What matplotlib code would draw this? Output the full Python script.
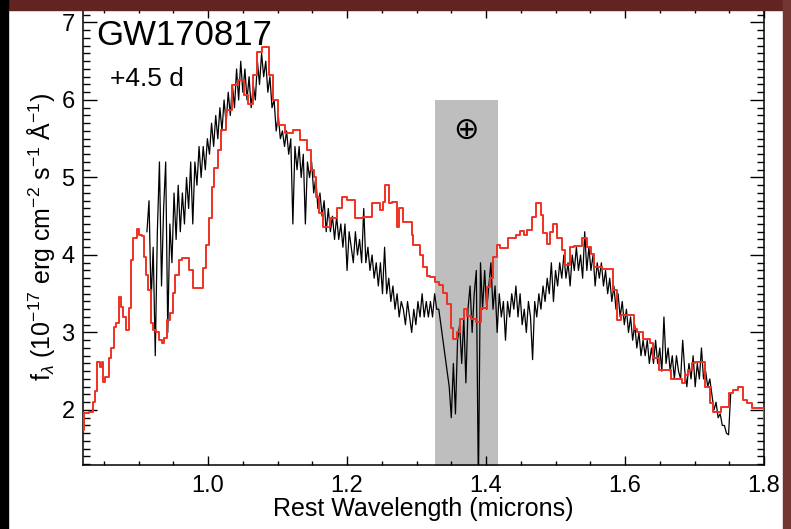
#!/usr/bin/env python3
"""
GW170817 spectrum at +4.5 d compared with a model.
"""
import numpy as np
import matplotlib.pyplot as plt
from matplotlib.patches import Rectangle
from matplotlib.ticker import MultipleLocator

plt.rcParams['font.family'] = ['Liberation Sans', 'DejaVu Sans']
plt.rcParams['mathtext.fontset'] = 'custom'
plt.rcParams['mathtext.rm'] = 'Liberation Sans'
plt.rcParams['mathtext.it'] = 'Liberation Sans:italic'

obs_start, obs_end = 0.912, 1.752
obs_flux = [
    4.3, 4.7, 3.4, 4.1, 2.7, 4.3, 5.2, 3.6, 4.6, 5.2, 3.0, 4.4, 3.9, 4.8, 4.2,
    4.9, 4.3, 4.8, 4.4, 5.0, 4.6, 5.2, 4.4, 5.2, 4.9, 5.4, 5.0, 5.4, 5.1, 5.5,
    5.3, 5.7, 5.4, 5.8, 5.5, 5.9, 5.6, 6.0, 5.7, 6.1, 5.8, 6.2, 5.9, 6.4, 6.0,
    6.5, 6.1, 6.4, 6.0, 6.3, 5.9, 6.2, 6.0, 6.5, 6.2, 6.6, 6.3, 6.5, 6.1, 6.3,
    5.9, 6.0, 5.6, 5.8, 5.5, 5.6,
    5.4, 5.6, 5.3, 5.5, 4.4, 5.4, 5.1, 5.4, 5.0, 5.3, 4.4, 5.2, 5.0, 5.2, 4.8,
    5.0, 4.6, 4.8, 4.5, 4.7, 4.3, 4.6, 4.3, 4.5, 4.2, 4.5, 4.2, 4.4, 4.1, 4.4,
    3.8, 4.3, 4.1, 3.9, 4.3, 4.0, 4.2, 3.9, 4.6, 3.9, 4.1, 3.8, 4.0, 3.7, 3.9,
    3.6, 3.9, 3.5, 4.1, 3.5, 3.7, 3.4, 3.6, 3.3, 3.5, 3.2, 3.4, 3.3, 3.1, 3.4,
    3.2, 3.0, 3.3, 3.1,
    3.4, 3.2, 3.5, 3.2, 3.4, 3.2, 3.4, 3.2, 3.5, 3.3, 3.3,
    3.1, 2.9, 2.7, 2.5, 2.3, 1.9, 2.6, 1.95, 2.9, 3.1, 2.6, 3.2, 2.35, 3.3,
    3.6, 3.0, 3.5, 3.8, 1.0,
    3.9, 3.3, 3.8, 3.3, 3.6, 3.9, 3.3, 3.6, 3.0, 3.5, 3.2, 3.4, 2.9, 3.4, 3.2,
    3.5, 3.3, 3.6, 3.2, 3.5, 3.1, 3.3, 3.0, 3.4, 3.2, 2.65, 3.4, 3.2, 3.5, 3.3,
    3.6, 3.4, 3.7, 3.5, 3.9, 3.4, 3.8, 3.6, 3.9, 3.7, 4.0, 3.7, 3.9, 3.6, 4.0,
    3.8, 4.1, 3.8, 4.0, 3.7, 4.3, 3.8, 4.1, 3.8, 4.0, 3.6, 3.9, 3.7, 3.9, 3.6,
    3.8, 3.5, 3.7, 3.4, 3.6, 3.3, 3.5, 3.2, 3.4, 3.1, 3.3, 3.0, 3.2, 2.9, 3.1,
    2.8, 3.0, 2.7, 2.9, 2.7, 2.9, 2.6, 2.8, 2.6, 2.9, 2.6, 2.8, 2.5, 3.2, 2.6,
    2.8, 2.5, 2.7, 2.4, 2.7, 2.5, 2.4, 2.9, 2.5, 2.3, 2.6, 2.4, 2.7, 2.3, 2.6,
    2.4, 2.8, 2.4, 2.5, 2.3, 2.4, 2.2, 2.0, 2.1, 1.9, 1.95, 1.8, 1.8, 1.7,
    1.68, 2.2,
]

# model spectrum: left bin edges and flux of each bin
model_wave = [
    0.820, 0.822, 0.828, 0.834, 0.837, 0.840, 0.844, 0.847, 0.849, 0.852,
    0.857, 0.860, 0.864, 0.868, 0.872, 0.875, 0.878, 0.882, 0.886, 0.889,
    0.892, 0.897, 0.901, 0.905, 0.908, 0.911, 0.914, 0.918, 0.921, 0.925,
    0.929, 0.933, 0.937, 0.941, 0.945, 0.949, 0.953, 0.958, 0.963, 0.972,
    0.978, 0.993, 0.997, 1.001, 1.005, 1.009, 1.014, 1.019, 1.026, 1.034,
    1.043, 1.051, 1.057, 1.064, 1.070, 1.078, 1.087, 1.093, 1.100, 1.111,
    1.122, 1.132, 1.142, 1.148, 1.152, 1.155, 1.160, 1.166, 1.175, 1.185,
    1.1925, 1.200, 1.212, 1.2235, 1.2355,
    1.2475, 1.2523, 1.2547, 1.2609, 1.2643, 1.2715, 1.2753, 1.2801, 1.2931,
    1.2955, 1.3051, 1.3099, 1.3147, 1.3195, 1.3267, 1.3329, 1.3387, 1.3435,
    1.3492, 1.3531, 1.3588, 1.3627, 1.3684, 1.3722, 1.3780, 1.3856, 1.3923,
    1.4019, 1.4058, 1.4096, 1.4154, 1.4202, 1.4322, 1.4432, 1.4489, 1.4547,
    1.4595, 1.4662, 1.4720, 1.4787, 1.4825, 1.4873, 1.4921, 1.4959, 1.5017,
    1.5089, 1.5142, 1.5209, 1.5271, 1.5382, 1.5449, 1.5506, 1.5554, 1.5665,
    1.5823, 1.5880, 1.5938, 1.6130, 1.6168, 1.6264, 1.6360, 1.6408, 1.6494,
    1.6657, 1.6816, 1.6864, 1.6912, 1.6960, 1.7007, 1.7151, 1.7223, 1.7271,
    1.7377, 1.7502, 1.7559, 1.7631, 1.7693, 1.7751, 1.7823, 1.7996,
]
model_flux = [
    1.74, 1.96, 1.97, 2.10, 2.25, 2.62, 2.56, 2.62, 2.36, 2.43,
    2.67, 2.80, 3.07, 3.12, 3.46, 3.33, 3.20, 3.03, 3.31, 3.94,
    4.22, 4.34, 4.26, 4.24, 3.97, 3.74, 3.55, 3.12, 3.03, 3.01,
    2.90, 2.86, 2.93, 3.16, 3.25, 3.51, 3.74, 3.94, 3.96, 3.81,
    3.57, 3.83, 4.13, 4.48, 4.88, 5.12, 5.35, 5.61, 5.87, 6.19,
    6.26, 6.06, 5.95, 6.32, 6.62, 6.68, 6.32, 6.00, 5.68, 5.57,
    5.61, 5.48, 5.35, 5.10, 5.00, 4.75, 4.54, 4.36, 4.48, 4.60,
    4.75, 4.71, 4.48, 4.49, 4.67,
    4.58, 4.68, 4.90, 4.67, 4.68, 4.36, 4.60, 4.43, 4.26,
    4.13, 4.00, 3.85, 3.73, 3.72, 3.65, 3.61, 3.51, 3.37,
    3.06, 2.92, 3.00, 3.18, 3.30, 3.21, 3.18, 3.14, 3.31,
    3.59, 3.70, 3.97, 4.13, 4.09, 4.22, 4.26, 4.31, 4.26,
    4.32, 4.49, 4.67, 4.52, 4.28, 4.14, 4.30, 4.40, 4.22,
    4.06, 3.87, 4.10, 4.12, 4.22, 4.10, 4.01, 3.84, 3.82,
    3.55, 3.16, 3.23, 3.05, 3.00, 2.92, 2.87, 2.67, 2.52,
    2.40, 2.35, 2.45, 2.52, 2.61, 2.62, 2.30, 2.09, 1.97,
    2.04, 2.22, 2.26, 2.30, 2.13, 2.09, 2.02, 1.83,
]
model_end = 1.80

# telluric band
band_x = [1.327, 1.417]
band_top = 6.0

obs_wave = np.linspace(obs_start, obs_end, len(obs_flux))

fig = plt.figure(figsize=(7.91, 5.29), dpi=100)
ax = fig.add_axes([83 / 791, 64 / 529, 681 / 791, 456 / 529])

ax.fill_between(band_x, 0, band_top, color='#bebebe', lw=0, zorder=1)
ax.text(1.371, 5.61, '\u2295', family='DejaVu Sans', fontsize=22,
        ha='center', va='center', zorder=2)

ax.plot(obs_wave, obs_flux, color='black', lw=0.9, zorder=3)
ax.step(model_wave + [model_end], model_flux + [model_flux[-1]],
        where='post', color='#ee3124', lw=1.4, zorder=4)

ax.set_xlim(0.82, 1.8)
ax.set_ylim(1.29, 7.174)

ax.xaxis.set_major_locator(MultipleLocator(0.2))
ax.xaxis.set_minor_locator(MultipleLocator(0.05))
ax.yaxis.set_major_locator(MultipleLocator(1))
ax.yaxis.set_minor_locator(MultipleLocator(0.1))
ax.xaxis.set_major_formatter(lambda v, p: f'{v:.1f}')
ax.tick_params(which='both', direction='in', top=True, right=True,
               labelsize=17, width=1, colors='black')
ax.tick_params(axis='x', which='major', length=6.5, pad=7)
ax.tick_params(axis='x', which='minor', length=3)
ax.tick_params(axis='y', which='major', length=10, pad=6)
ax.tick_params(axis='y', which='minor', length=5)
for s in ax.spines.values():
    s.set_linewidth(1.1)

ax.set_xlabel('Rest Wavelength (microns)', fontsize=18, labelpad=0)
ax.set_ylabel(r'f$_\lambda$ (10$^{-17}$ erg cm$^{-2}$ s$^{-1}$ Å$^{-1}$)',
              fontsize=18, labelpad=3)

ax.text(0.839, 7.05, 'GW170817', fontsize=25, ha='left', va='top')
ax.text(0.859, 6.27, '+4.5 d', fontsize=19, ha='left', va='center')

# slide frame around the picture
frame = [
    Rectangle((0, 1 - 10 / 529), 1, 10 / 529, color='#612420'),
    Rectangle((0, 0), 8 / 791, 1, color='black'),
    Rectangle((783 / 791, 0), 8 / 791, 1, color='#733632'),
]
for r in frame:
    r.set_transform(fig.transFigure)
    r.set_zorder(10)
    fig.patches.append(r)

fig.savefig('out.png', dpi=100)
